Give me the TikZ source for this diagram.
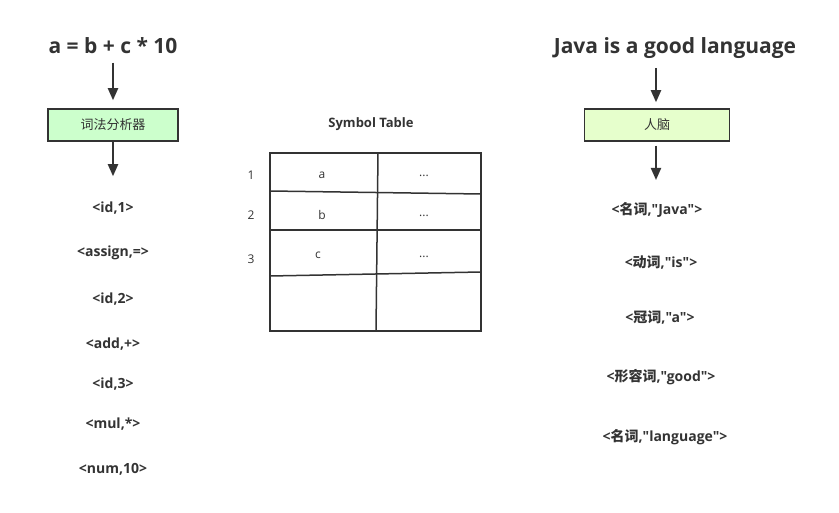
\documentclass[tikz,border=0pt]{standalone}
\usepackage{fontspec}
\setmainfont{Open Sans}[Ligatures=TeXOff]
\newfontfamily\cjk{Noto Sans CJK SC}
\usetikzlibrary{positioning}
\usetikzlibrary{arrows.meta}

\definecolor{inkgray}{HTML}{333333}
\definecolor{lexgreen}{HTML}{CCFFCC}
\definecolor{braingreen}{HTML}{E6FFCC}

\tikzset{
	headline/.style={font=\bfseries\fontsize{21}{25}\selectfont, text=inkgray},
	procbox/.style={draw=inkgray, line width=1.5pt, minimum height=32pt, font=\cjk\fontsize{13}{15}\selectfont, text=inkgray},
	token/.style={font=\bfseries\fontsize{14}{16}\selectfont, text=inkgray},
	cell/.style={font=\fontsize{12}{14}\selectfont, text=inkgray},
	flow/.style={draw=inkgray, line width=2pt, -{Triangle[length=12pt,width=10pt]}},
}

\begin{document}
\begin{tikzpicture}[x=1pt,y=-1pt]
		\useasboundingbox (0,0) rectangle (839,513);
		% left: source statement through the lexer
		\node [headline] (expr) at (113,46) {a = b + c * 10};
		\node [procbox, fill=lexgreen, minimum width=130pt] (lexer) at (113,125) {词法分析器};
		\node [token] (t1) at (113,208) {<id,1>};
		\node [token] (t2) at (113,253) {<assign,=>};
		\node [token] (t3) at (113,299) {<id,2>};
		\node [token] (t4) at (113,344) {<add,+>};
		\node [token] (t5) at (113,384) {<id,3>};
		\node [token] (t6) at (113,424) {<mul,*>};
		\node [token] (t7) at (113,469) {<num,10>};
		\draw [flow, shorten <=5pt, shorten >=8pt] (expr) -- (lexer);
		\draw [flow, shorten >=22pt] (lexer) -- (t1);

		% middle: symbol table
		\node [font=\bfseries\fontsize{13}{15}\selectfont, text=inkgray] (symtab) at (371,124) {Symbol Table};
		\draw [inkgray, line width=1.5pt] (270,153) rectangle (481,331);
		\draw [inkgray, line width=1.5pt] (378,153) -- (376,331);
		\draw [inkgray, line width=1.5pt] (270,191) -- (481,194);
		\draw [inkgray, line width=1.5pt] (270,230) -- (481,230);
		\draw [inkgray, line width=1.5pt] (270,276) -- (481,272);
		\node [cell] (n1) at (251,175) {1};
		\node [cell] (n2) at (251,215) {2};
		\node [cell] (n3) at (251,259) {3};
		\node [cell] (c1) at (322,175) {a};
		\node [cell] (c2) at (322,215) {b};
		\node [cell] (c3) at (318,255) {c};
		\node [cell] (d1) at (424,176) {...};
		\node [cell] (d2) at (424,216) {...};
		\node [cell] (d3) at (424,257) {...};

		% right: english sentence through the brain
		\node [headline] (sentence) at (675,48) {Java is a good language};
		\node [procbox, fill=braingreen, minimum width=145pt] (brain) at (657,125) {人脑};
		\node [token] (w1) at (657,210) {<{\cjk 名词},"Java">};
		\node [token] (w2) at (661,263) {<{\cjk 动词},"is">};
		\node [token] (w3) at (660,318) {<{\cjk 冠词},"a">};
		\node [token] (w4) at (661,377) {<{\cjk 形容词},"good">};
		\node [token] (w5) at (665,437) {<{\cjk 名词},"language">};
		\coordinate (top) at (656,68);
		\coordinate (tip) at (656,180);
		\draw [flow, shorten >=6pt] (top) -- (top |- brain.north);
		\draw [flow, shorten <=4pt] (brain.south -| tip) -- (tip);
	\end{tikzpicture}
\end{document}
